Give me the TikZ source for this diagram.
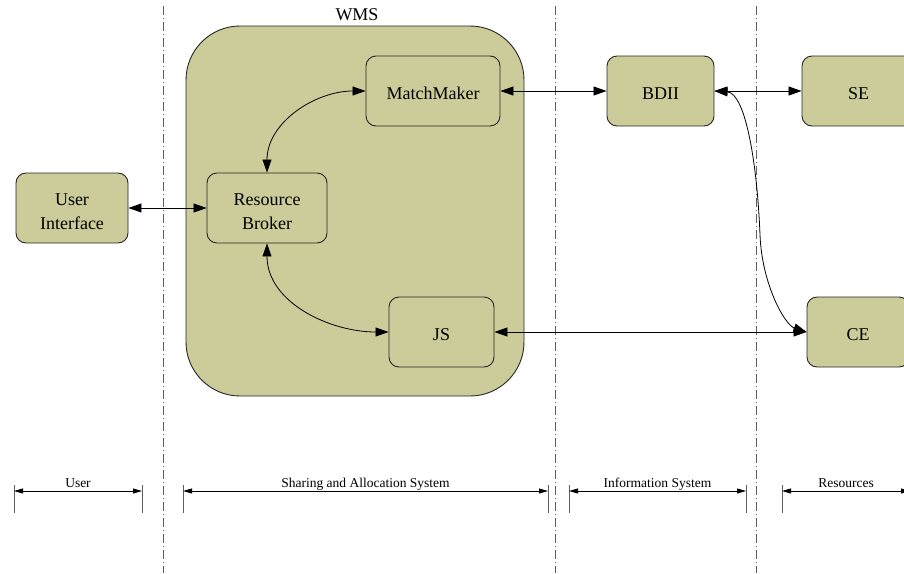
\documentclass[tikz,border=0pt]{standalone}
\usepackage{fontspec}
\setmainfont{Liberation Serif}
\usetikzlibrary{arrows.meta}
\definecolor{boxfill}{RGB}{203,204,154}
\definecolor{sepgray}{RGB}{95,95,95}
% invisible strut that sets the text a little lower inside its box
\newcommand{\boxstrut}[1]{\rule{0pt}{#1}}
\begin{document}
\begin{tikzpicture}[x=1pt,y=-1pt,
  comp/.style={draw=black!85, fill=boxfill, line width=0.9pt, rounded corners=10pt,
    minimum height=70pt, align=center, inner sep=0pt,
    font=\fontsize{18}{24}\selectfont},
  link/.style={line width=0.8pt,
    {Triangle[length=13pt,width=9pt]}-{Triangle[length=13pt,width=9pt]}},
  sep/.style={draw=sepgray, line width=0.9pt, dash pattern=on 9pt off 3pt on 1pt off 3pt},
  span/.style={line width=0.8pt,
    {Triangle[length=9pt,width=5pt]}-{Triangle[length=9pt,width=5pt]}},
  tick/.style={draw=sepgray, line width=0.9pt},
  spanlabel/.style={font=\fontsize{13.5}{16}\selectfont, anchor=base, inner sep=0pt}
]
\clip (0,0) rectangle (904,573);
\useasboundingbox (0,0) rectangle (904,573);

% layer separators
\foreach \x/\n in {163/a, 555/b, 756/c} {
  \coordinate (sep-\n-top) at (\x,6);
  \coordinate (sep-\n-bot) at (\x,573);
  \draw[sep] (sep-\n-top) -- (sep-\n-bot);
}

% workload management system container
\node[draw=black!85, fill=boxfill, line width=0.9pt, rounded corners=54pt,
      minimum width=338pt, minimum height=370pt, inner sep=0pt] (wms) at (355,211) {};
\node[font=\fontsize{18}{24}\selectfont, inner sep=0pt] (wmslabel) at (357,15) {WMS};

% components
\node[comp, minimum width=134pt] (mm)   at (433,91)    {\boxstrut{17pt}MatchMaker};
\node[comp, minimum width=120pt] (rb)   at (267,208)   {\boxstrut{19pt}Resource\\Broker};
\node[comp, minimum width=112pt] (ui)   at (72,208)    {\boxstrut{19pt}User\\Interface};
\node[comp, minimum width=107pt] (bdii) at (660.5,91)  {\boxstrut{17pt}BDII};
\node[comp, minimum width=113pt] (se)   at (858.5,91)  {\boxstrut{17pt}SE};
\node[comp, minimum width=105pt] (js)   at (441.5,332) {\boxstrut{17pt}JS};
\node[comp, minimum width=102pt] (ce)   at (858,332)   {\boxstrut{17pt}CE};

% interactions
\draw[link] (ui.east) -- (rb.west);
\draw[link] (mm.east) -- (bdii.west);
\draw[link] (bdii.east) -- (se.west);
\draw[link] (js.east) -- (ce.west);
\draw[link] (rb.north) to[out=90, in=180] (mm.west);
\draw[link] (rb.south) to[out=-90, in=180] (js.west);
\coordinate (bend) at (760,235);
\draw[link] (bdii.east) .. controls (745,93) and (757,160) .. (bend)
            .. controls (762,285) and (785,325) .. (ce.west);

% layer extents
\foreach \a/\b/\t/\n in {14/142/User/user,
                         183/548/Sharing and Allocation System/sas,
                         569/746/Information System/is,
                         782/910/Resources/res} {
  \coordinate (\n-l) at (\a,491);
  \coordinate (\n-r) at (\b,491);
  \coordinate (\n-lt) at (\a,485);
  \coordinate (\n-lb) at (\a,513);
  \coordinate (\n-rt) at (\b,485);
  \coordinate (\n-rb) at (\b,513);
  \draw[tick] (\n-lt) -- (\n-lb);
  \draw[tick] (\n-rt) -- (\n-rb);
  \draw[span] (\n-l) -- (\n-r);
  \node[spanlabel] (\n-text) at ({(\a+\b)/2},487) {\t};
}
\end{tikzpicture}
\end{document}
